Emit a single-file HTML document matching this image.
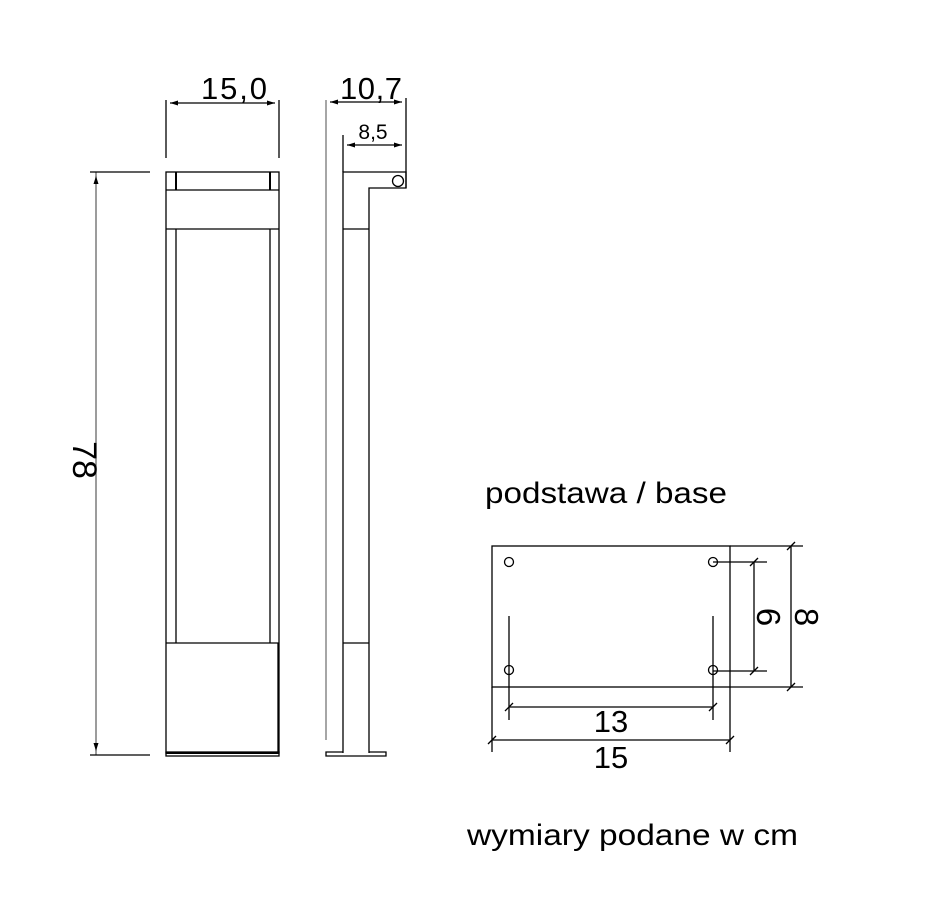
<!DOCTYPE html>
<html><head><meta charset="utf-8"><style>body{margin:0;background:#fff}svg{display:block}</style></head>
<body>
<svg width="926" height="913" viewBox="0 0 926 913" xmlns="http://www.w3.org/2000/svg" font-family="Liberation Sans, DejaVu Sans, sans-serif">
<g fill="none" stroke="#000" stroke-width="1.3">
<rect x="166" y="172" width="113" height="581"/>
<line x1="166" y1="190" x2="279" y2="190"/>
<line x1="166" y1="229" x2="279" y2="229"/>
<line x1="176" y1="172" x2="176" y2="190" stroke-width="2"/>
<line x1="270" y1="172" x2="270" y2="190" stroke-width="2"/>
<line x1="176" y1="229" x2="176" y2="643"/>
<line x1="270" y1="229" x2="270" y2="643"/>
<line x1="166" y1="643" x2="279" y2="643"/>
<line x1="278" y1="643" x2="278" y2="753"/>
<rect x="166" y="752" width="113" height="4"/>
<line x1="166" y1="753" x2="279" y2="753" stroke-width="2"/>
<line x1="166" y1="100" x2="166" y2="158"/>
<line x1="279" y1="100" x2="279" y2="158"/>
<line x1="170" y1="103" x2="275" y2="103"/>
<line x1="96" y1="172" x2="96" y2="755" stroke="#666"/>
<line x1="90" y1="172" x2="150" y2="172"/>
<line x1="90" y1="755" x2="150" y2="755"/>
<line x1="326" y1="100" x2="326" y2="740" stroke="#777"/>
<path d="M343 753 V172 H406 V188 H369 V753"/>
<circle cx="398" cy="181" r="5.5"/>
<line x1="343" y1="229" x2="369" y2="229"/>
<line x1="343" y1="643" x2="369" y2="643"/>
<path d="M343 752 H326 V756 H386 V752 H369"/>
<line x1="406" y1="98" x2="406" y2="188"/>
<line x1="343" y1="135" x2="343" y2="172"/>
<line x1="330" y1="102" x2="402" y2="102"/>
<line x1="347" y1="145" x2="402" y2="145"/>
<rect x="492" y="546" width="238" height="141"/>
<circle cx="509" cy="562" r="4.5"/>
<circle cx="713" cy="562" r="4.5"/>
<circle cx="509" cy="670" r="4.5"/>
<circle cx="713" cy="670" r="4.5"/>
<line x1="509" y1="616" x2="509" y2="720"/>
<line x1="713" y1="616" x2="713" y2="720"/>
<line x1="509" y1="707" x2="713" y2="707"/>
<line x1="492" y1="687" x2="492" y2="752"/>
<line x1="730" y1="687" x2="730" y2="752"/>
<line x1="492" y1="740" x2="730" y2="740"/>
<line x1="713" y1="562" x2="767" y2="562"/>
<line x1="713" y1="671" x2="767" y2="671"/>
<line x1="754" y1="562" x2="754" y2="671"/>
<line x1="730" y1="546" x2="803" y2="546"/>
<line x1="730" y1="687" x2="803" y2="687"/>
<line x1="791" y1="546" x2="791" y2="687"/>
<line x1="505" y1="711" x2="513" y2="703"/><line x1="709" y1="711" x2="717" y2="703"/>
<line x1="488" y1="744" x2="496" y2="736"/><line x1="726" y1="744" x2="734" y2="736"/>
<line x1="750" y1="566" x2="758" y2="558"/><line x1="750" y1="675" x2="758" y2="667"/>
<line x1="787" y1="550" x2="795" y2="542"/><line x1="787" y1="691" x2="795" y2="683"/>
</g>
<g fill="#000" stroke="none">
<path d="M170 103 l8 -2.5 v5z M275 103 l-8 -2.5 v5z M330 102 l8 -2.5 v5z M402 102 l-8 -2.5 v5z M347 145 l8 -2.5 v5z M402 145 l-8 -2.5 v5z M96 176 l-2.5 8 h5z M96 751 l-2.5 -8 h5z"/>
</g>
<g fill="#000" font-size="31">
<text x="234" y="99" text-anchor="middle" textLength="66">15,0</text>
<text x="371" y="99" text-anchor="middle" textLength="62">10,7</text>
<text x="373" y="139" text-anchor="middle" font-size="21">8,5</text>
<text transform="translate(73,460) rotate(90)" text-anchor="middle" font-size="34">78</text>
<text x="611" y="732" text-anchor="middle">13</text>
<text x="611" y="768" text-anchor="middle">15</text>
<text transform="translate(757,617) rotate(90)" text-anchor="middle" font-size="33">6</text>
<text transform="translate(795,617) rotate(90)" text-anchor="middle" font-size="33">8</text>
<text x="485" y="503" font-size="30" textLength="242" lengthAdjust="spacingAndGlyphs">podstawa / base</text>
<text x="467" y="845" font-size="30" textLength="331" lengthAdjust="spacingAndGlyphs">wymiary podane w cm</text>
</g>
</svg>
</body></html>
